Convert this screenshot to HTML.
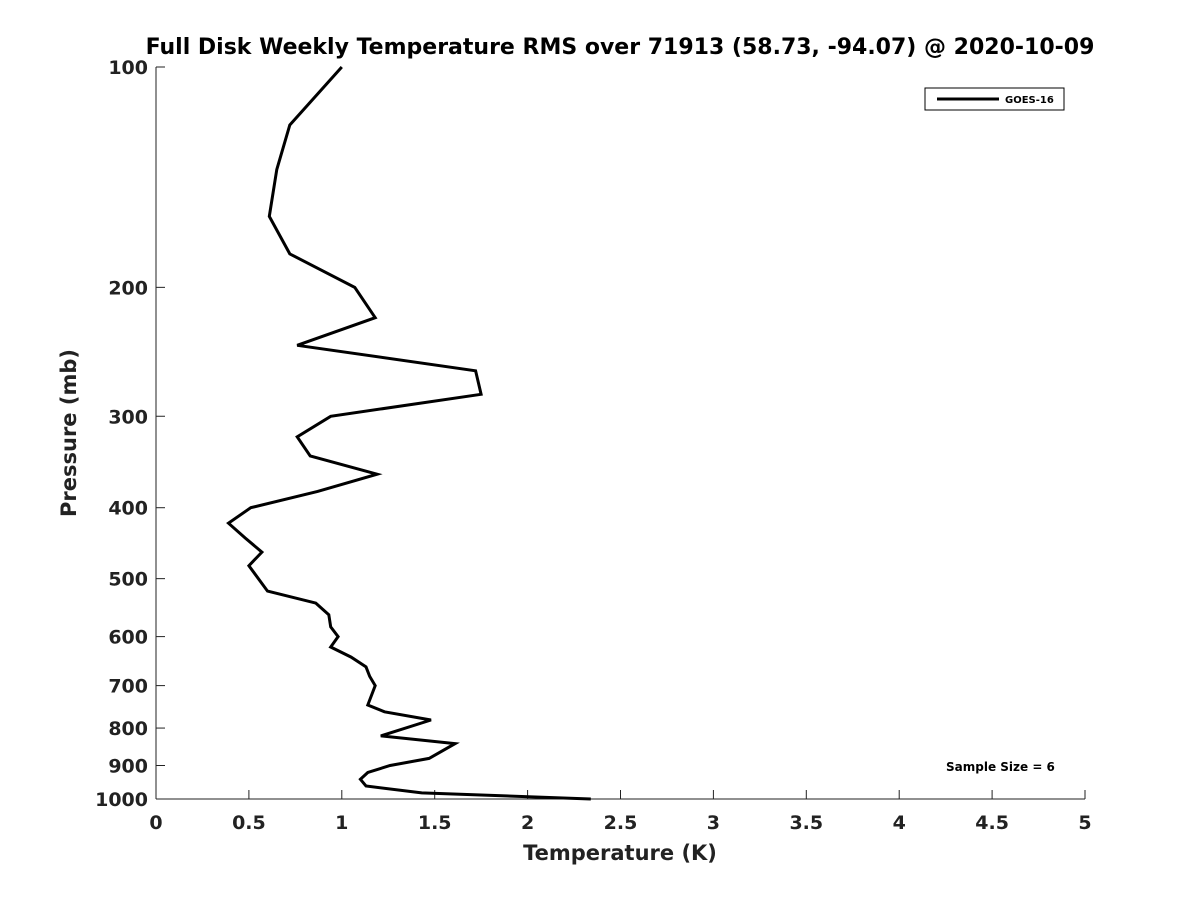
<!DOCTYPE html>
<html><head><meta charset="utf-8"><style>
body{margin:0;background:#fff;font-family:"Liberation Sans","DejaVu Sans",sans-serif}
text{font-family:"DejaVu Sans","Liberation Sans",sans-serif;font-weight:bold;fill:#222}
</style></head><body>
<svg id="chart" width="1200" height="900" xmlns="http://www.w3.org/2000/svg">
<rect width="1200" height="900" fill="#fff"/>
<text x="620" y="54" text-anchor="middle" font-size="22" style="fill:#000">Full Disk Weekly Temperature RMS over 71913 (58.73, -94.07) @ 2020-10-09</text>
<g id="axes"></g>
<g id="series"></g>
<g>
<rect x="925" y="88" width="139" height="22" fill="#fff" stroke="#000" stroke-width="1"/>
<line x1="937" y1="99" x2="999" y2="99" stroke="#000" stroke-width="3"/>
<text x="1005" y="103" font-size="10" style="fill:#000">GOES-16</text>
</g>
<text x="946" y="771" font-size="12" style="fill:#000">Sample Size = 6</text>
<text x="620" y="860" text-anchor="middle" font-size="21">Temperature (K)</text>
<text transform="translate(76,433) rotate(-90)" text-anchor="middle" font-size="21">Pressure (mb)</text>
</svg>
<script>
const pressures=[100,120,138,160,180,200,220,240,260,280,300,320,340,360,380,400,420,440,460,480,520,540,560,582,600,620,640,660,680,700,744,760,780,820,840,880,900,920,940,960,981,1000];
const rmsValues=[1.0,0.72,0.65,0.61,0.72,1.07,1.18,0.76,1.72,1.75,0.94,0.76,0.83,1.19,0.87,0.51,0.39,0.48,0.57,0.50,0.60,0.86,0.93,0.94,0.98,0.94,1.05,1.13,1.15,1.18,1.14,1.23,1.48,1.21,1.61,1.47,1.26,1.14,1.10,1.13,1.43,2.34];
const xTicks=[0,0.5,1,1.5,2,2.5,3,3.5,4,4.5,5];
const yTicks=[100,200,300,400,500,600,700,800,900,1000];
const X0=156,X1=1085,Y0=67,Y1=799;
const xs=v=>X0+(v/5)*(X1-X0);
const ys=p=>Y0+Math.log10(p/100)*(Y1-Y0);
const NS="http://www.w3.org/2000/svg";
const axes=document.getElementById('axes');
function mk(t,a,parent){const e=document.createElementNS(NS,t);for(const k in a)e.setAttribute(k,a[k]);parent.appendChild(e);return e;}
const xa=mk('line',{x1:X0,y1:Y1,x2:X1,y2:Y1,stroke:'#222','stroke-width':1},axes);


const ya=mk('line',{x1:X0,y1:Y0,x2:X0,y2:Y1,stroke:'#222','stroke-width':1},axes);


xTicks.forEach(v=>{
 const x=xs(v);
 mk('line',{x1:x,y1:Y1,x2:x,y2:Y1-9,stroke:'#222'},axes);
 const t=mk('text',{x:x,y:Y1+30,'text-anchor':'middle','font-size':19},axes);
 t.textContent=v;
 
 
});
yTicks.forEach(p=>{
 const y=ys(p);
 mk('line',{x1:X0,y1:y,x2:X0+9,y2:y,stroke:'#222'},axes);
 const t=mk('text',{x:X0-8,y:y+7,'text-anchor':'end','font-size':19},axes);
 t.textContent=p;
 
 
});
const pts=pressures.map((p,i)=>xs(rmsValues[i]).toFixed(1)+','+ys(p).toFixed(1)).join(' ');
const line=mk('polyline',{points:pts,fill:'none',stroke:'#000','stroke-width':3,'stroke-linejoin':'miter'},document.getElementById('series'));


</script>
</body></html>
